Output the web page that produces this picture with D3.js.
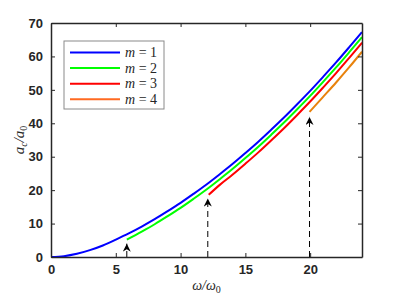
<!DOCTYPE html>
<html>
<head>
<meta charset="utf-8">
<script src="https://cdn.jsdelivr.net/npm/d3@7"></script>
<style>
  body { margin: 0; background: #fff; }
  .tick text { font-family: "Liberation Sans", Arial, sans-serif; font-weight: bold; font-size: 13px; fill: #262626; }
  .math { font-family: "Liberation Serif", "DejaVu Serif", serif; font-style: italic; fill: #262626; }
</style>
</head>
<body>
<svg width="399" height="296"></svg>
<script>
// data
const omega1 = [0, 1, 2, 3, 4, 5, 6, 7, 8, 9, 10, 11, 12, 13, 14, 15, 16, 17, 18, 19, 20, 21, 22, 23, 24];
const accel1 = [0, 0.25, 0.95, 2.05, 3.45, 5.2, 7.05, 9.1, 11.3, 13.7, 16.2, 18.9, 21.7, 24.7, 27.8, 31.1, 34.5, 38.1, 41.8, 45.7, 49.7, 53.9, 58.2, 62.7, 67.3];
const omega2 = [5.85, 7, 8, 9, 10, 11, 12, 13, 14, 15, 16, 17, 18, 19, 20, 21, 22, 23, 24];
const accel2 = [5.2, 7.6, 9.8, 12.2, 14.7, 17.4, 20.2, 23.2, 26.3, 29.6, 33.0, 36.6, 40.3, 44.2, 48.2, 52.4, 56.7, 61.2, 65.8];
const omega3 = [12.17, 13, 14, 15, 16, 17, 18, 19, 20, 21, 22, 23, 24];
const accel3 = [18.6, 21.5, 24.6, 27.9, 31.3, 34.9, 38.6, 42.5, 46.5, 50.7, 55.0, 59.5, 64.1];
const omega4 = [19.95, 21, 22, 23, 24];
const accel4 = [43.4, 47.9, 52.2, 56.7, 61.4];
const mValues = [1, 2, 3, 4];
const lineColors = ['#0000ff', '#00ff00', '#ff0000', '#e8820c'];
const legendColors = ['#0000ff', '#00ff00', '#ff0000', '#ff6a22'];
// thresholds marked with arrows (omega, tip height)
const arrowOmega = [5.85, 12.1, 19.95];
const arrowTip = [4.0, 17.5, 41.9];
const xTicks = [0, 5, 10, 15, 20];
const yTicks = [0, 10, 20, 30, 40, 50, 60, 70];

const series = [
  omega1.map((w, i) => [w, accel1[i]]),
  omega2.map((w, i) => [w, accel2[i]]),
  omega3.map((w, i) => [w, accel3[i]]),
  omega4.map((w, i) => [w, accel4[i]])
];

const svg = d3.select('svg');
const margin = { top: 23, right: 37, bottom: 39, left: 51 };
const width = 399 - margin.left - margin.right;
const height = 296 - margin.top - margin.bottom;

const x = d3.scaleLinear().domain([0, 24]).range([0, width]);
const y = d3.scaleLinear().domain([0, 70]).range([height, 0]);

const g = svg.append('g').attr('transform', `translate(${margin.left},${margin.top})`);

const line = d3.line()
  .x(d => x(d[0]))
  .y(d => y(d[1]))
  .curve(d3.curveMonotoneX);

// arrowhead
svg.append('defs').append('marker')
  .attr('id', 'head')
  .attr('viewBox', '0 0 10 10')
  .attr('refX', 10).attr('refY', 5)
  .attr('markerWidth', 9).attr('markerHeight', 8)
  .attr('markerUnits', 'userSpaceOnUse')
  .attr('orient', 'auto')
  .append('path')
  .attr('d', 'M0,0 L10,5 L0,10 L3,5 Z')
  .attr('fill', '#000');

g.selectAll('.arrow')
  .data(arrowOmega)
  .enter().append('line')
    .attr('class', 'arrow')
    .attr('x1', d => x(d)).attr('x2', d => x(d))
    .attr('y1', y(0))
    .attr('y2', (d, i) => y(arrowTip[i]))
    .attr('stroke', '#000')
    .attr('stroke-width', 1)
    .attr('stroke-dasharray', '6,4')
    .attr('marker-end', 'url(#head)');

g.selectAll('.curve')
  .data(series)
  .enter().append('path')
    .attr('class', 'curve')
    .attr('d', line)
    .attr('fill', 'none')
    .attr('stroke', (d, i) => lineColors[i])
    .attr('stroke-width', 2);

// axes with mirrored inward ticks
const axisColor = '#262626';
const axBottom = g.append('g').attr('transform', `translate(0,${height})`)
  .call(d3.axisBottom(x).tickValues(xTicks).tickSizeInner(-4).tickSizeOuter(0).tickPadding(8));
const axLeft = g.append('g')
  .call(d3.axisLeft(y).tickValues(yTicks).tickSizeInner(-4).tickSizeOuter(0).tickPadding(8));
const axTop = g.append('g')
  .call(d3.axisTop(x).tickValues(xTicks).tickSizeInner(-4).tickSizeOuter(0).tickFormat(''));
const axRight = g.append('g').attr('transform', `translate(${width},0)`)
  .call(d3.axisRight(y).tickValues(yTicks).tickSizeInner(-4).tickSizeOuter(0).tickFormat(''));

[axBottom, axLeft, axTop, axRight].forEach(a => {
  a.select('.domain').attr('stroke', axisColor).attr('stroke-width', 1.5);
  a.selectAll('.tick line').attr('stroke', axisColor).attr('stroke-width', 1);
});

// axis labels
const xl = svg.append('text').attr('class', 'math')
  .attr('x', margin.left + width / 2).attr('y', 290)
  .attr('text-anchor', 'middle').attr('font-size', 14);
xl.append('tspan').text('ω/ω');
xl.append('tspan').attr('font-size', 10).attr('font-style', 'normal').attr('dy', 3).text('0');

const yl = svg.append('text').attr('class', 'math')
  .attr('transform', `translate(24,${margin.top + height / 2}) rotate(-90)`)
  .attr('text-anchor', 'middle').attr('font-size', 15);
yl.append('tspan').text('a');
yl.append('tspan').attr('font-size', 10).attr('dy', 3).text('c');
yl.append('tspan').attr('dy', -3).text('/a');
yl.append('tspan').attr('font-size', 10).attr('font-style', 'normal').attr('dy', 3).text('0');

// legend
const legend = svg.append('g').attr('transform', 'translate(64,41)');
legend.append('rect')
  .attr('width', 100).attr('height', 68)
  .attr('fill', '#fff').attr('stroke', '#8a8a8a').attr('stroke-width', 1);
const item = legend.selectAll('.item')
  .data(mValues)
  .enter().append('g')
    .attr('class', 'item')
    .attr('transform', (d, i) => `translate(0,${11.5 + i * 15.6})`);
item.append('line')
  .attr('x1', 6).attr('x2', 56)
  .attr('stroke', (d, i) => legendColors[i])
  .attr('stroke-width', 2);
const lt = item.append('text').attr('class', 'math')
  .attr('x', 61).attr('y', 4.5).attr('font-size', 14);
lt.append('tspan').text('m');
lt.append('tspan').attr('font-style', 'normal').text(d => ' = ' + d);
</script>
</body>
</html>
